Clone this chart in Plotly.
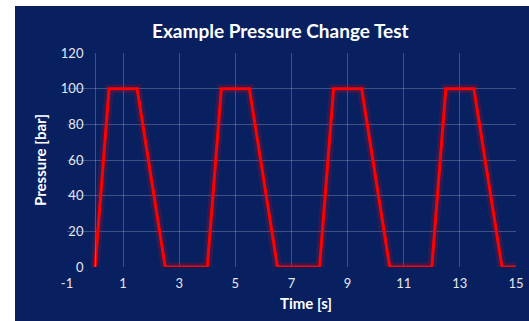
import plotly.graph_objects as go

time_s = [0, 0.5, 1.5, 2.5, 4, 4.5, 5.5, 6.5, 8, 8.5, 9.5, 10.5, 12, 12.5, 13.5, 14.5, 15]
pressure_bar = [0, 100, 100, 0, 0, 100, 100, 0, 0, 100, 100, 0, 0, 100, 100, 0, 0]

x_ticks = [-1, 1, 3, 5, 7, 9, 11, 13, 15]
x_tick_labels = [str(v) for v in x_ticks]
y_ticks = [0, 20, 40, 60, 80, 100, 120]

x_range = [-1, 15]
y_range = [0, 120]
y_axis_cross = 0  # vertical axis crosses the time axis at t = 0

title_text = "Example Pressure Change Test"
x_title = "Time [s]"
y_title = "Pressure [bar]"

NAVY = "#082060"
GRID = "rgba(200,210,235,0.28)"
FONT = "Lato"
TICKC = "#e6e8ef"

fig = go.Figure()
# glow
fig.add_trace(go.Scatter(x=time_s, y=pressure_bar, mode="lines",
                         line=dict(color="rgba(255,0,0,0.18)", width=9),
                         hoverinfo="skip", showlegend=False))
fig.add_trace(go.Scatter(x=time_s, y=pressure_bar, mode="lines",
                         line=dict(color="#ff0000", width=3),
                         showlegend=False))

L, R, T, B = 67, 13, 53, 54
W, H = 529, 321
pw, ph = W - L - R, H - T - B

def px(xp):
    return (xp - L) / pw

def py(yp):
    return (H - B - yp) / ph

fig.add_shape(type="rect", xref="paper", yref="paper",
              x0=px(15), x1=px(W + 20), y0=py(H + 20), y1=py(6),
              fillcolor=NAVY, line=dict(width=0), layer="below")

fig.add_annotation(text=f"<b>{title_text}</b>", xref="paper", yref="paper",
                   x=px(280), y=py(30), showarrow=False,
                   xanchor="center", yanchor="middle",
                   font=dict(family=FONT, size=19, color="white"))
fig.add_annotation(text=f"<b>{x_title}</b>", xref="paper", yref="paper",
                   x=px(306), y=py(303), showarrow=False,
                   xanchor="center", yanchor="middle",
                   font=dict(family=FONT, size=15, color="white"))
fig.add_annotation(text=f"<b>{y_title}</b>", xref="paper", yref="paper",
                   x=px(40), y=py(160), showarrow=False, textangle=-90,
                   xanchor="center", yanchor="middle",
                   font=dict(family=FONT, size=15, color="white"))

y_pos = (y_axis_cross - x_range[0]) / (x_range[1] - x_range[0])

fig.update_layout(
    width=W, height=H,
    margin=dict(l=L, r=R, t=T, b=B, pad=0),
    paper_bgcolor="white",
    plot_bgcolor=NAVY,
    font=dict(family=FONT, size=13, color=TICKC),
    xaxis=dict(range=x_range, tickmode="array", tickvals=x_ticks, ticktext=x_tick_labels,
               showgrid=True, gridcolor=GRID, gridwidth=1, zeroline=False,
               showline=False, ticks="", ticklabelstandoff=7,
               automargin=False,
               tickfont=dict(family=FONT, size=13, color=TICKC)),
    yaxis=dict(range=y_range, tickmode="array", tickvals=y_ticks,
               showgrid=True, gridcolor=GRID, gridwidth=1, zeroline=False,
               anchor="free", position=y_pos,
               showline=True, linecolor=GRID, linewidth=1,
               ticks="", ticklabelstandoff=9,
               automargin=False,
               tickfont=dict(family=FONT, size=13, color=TICKC)),
)

fig.write_html("out.html", config={"displayModeBar": False},
               post_script="document.body.style.margin='0';")
